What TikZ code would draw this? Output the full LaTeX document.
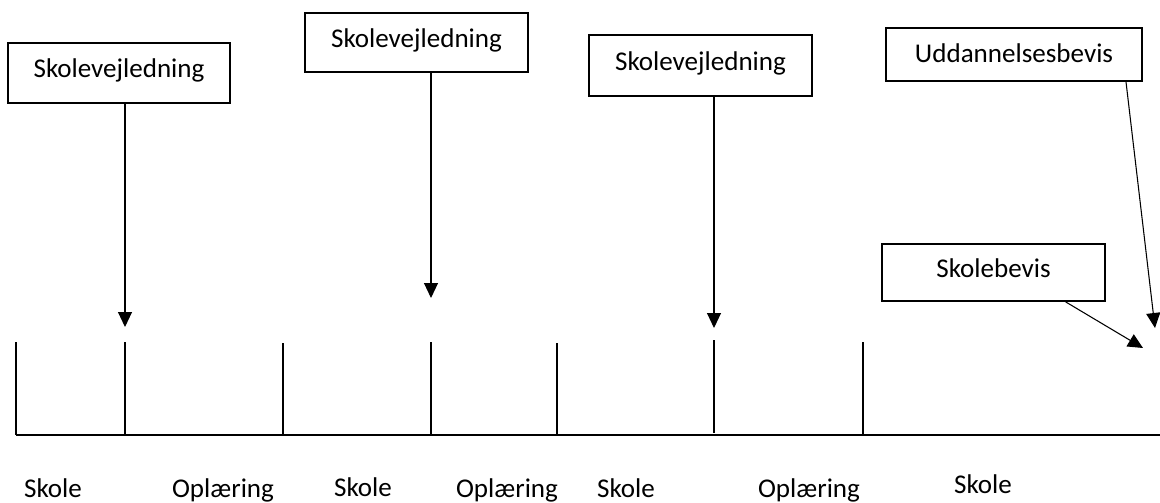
\documentclass[tikz,border=0pt]{standalone}
\usepackage{fontspec}
\setmainfont{Carlito}
\usetikzlibrary{arrows.meta,calc}

\tikzset{
  boks/.style={draw,line width=1.1pt,inner sep=0pt,text height=12pt,text depth=4.5pt,
    minimum width=167pt,minimum height=44pt,font=\fontsize{20.3}{24}\selectfont},
  pil/.style={-{Triangle[width=10.5pt,length=11.25pt]},line width=0.8pt},
  tekst/.style={anchor=base,inner sep=0pt,font=\fontsize{20.3}{24}\selectfont}
}

\begin{document}
\begin{tikzpicture}[x=0.75pt,y=-0.75pt]
\useasboundingbox (0,0) rectangle (1160,503);
% kasser
\node[boks,minimum width=166.5pt,minimum height=45pt] (vej1) at (119,73) {Skolevejledning};
\node[boks] (vej2) at (416.5,42.5) {Skolevejledning};
\node[boks,minimum height=46pt] (vej3) at (700.5,65.5) {Skolevejledning};
\node[boks,minimum width=192pt,minimum height=40pt,text height=15pt,text depth=2.25pt] (udd) at (1014,54.5) {Uddannelsesbevis};
\node[boks,minimum height=43pt] (bevis) at (993.5,272.5) {Skolebevis};
% pilespidser
\coordinate (p1) at (125,327);
\coordinate (p2) at (431,298);
\coordinate (p3) at (714,328);
\coordinate (p4) at (1155,328);
\coordinate (p5) at (1143,348);
% pile
\draw[pil] (vej1.south -| p1) -- (p1);
\draw[pil] (vej2.south -| p2) -- (p2);
\draw[pil] (vej3.south -| p3) -- (p3);
\draw[pil] ($(udd.south west)!0.935!(udd.south east)$) -- (p4);
\draw[pil] ($(bevis.south west)!0.822!(bevis.south east)$) -- (p5);
% tidslinje
\draw[line width=1.1pt] (16,435) -- (1160,435);
\draw[line width=0.8pt] (16,342) -- (16,435);
\draw[line width=0.8pt] (125,342) -- (125,435);
\draw[line width=0.8pt] (283,343) -- (283,435);
\draw[line width=0.8pt] (431,342) -- (431,435);
\draw[line width=0.8pt] (557,343) -- (557,435);
\draw[line width=0.8pt] (714,340) -- (714,433);
\draw[line width=0.8pt] (863,342) -- (863,435);
% perioder
\node[tekst] (s1) at (53,497) {Skole};
\node[tekst] (o1) at (223,497) {Oplæring};
\node[tekst] (s2) at (363,496) {Skole};
\node[tekst] (o2) at (507,497) {Oplæring};
\node[tekst] (s3) at (626,497) {Skole};
\node[tekst] (o3) at (809,497) {Oplæring};
\node[tekst] (s4) at (983,493) {Skole};
\end{tikzpicture}
\end{document}
